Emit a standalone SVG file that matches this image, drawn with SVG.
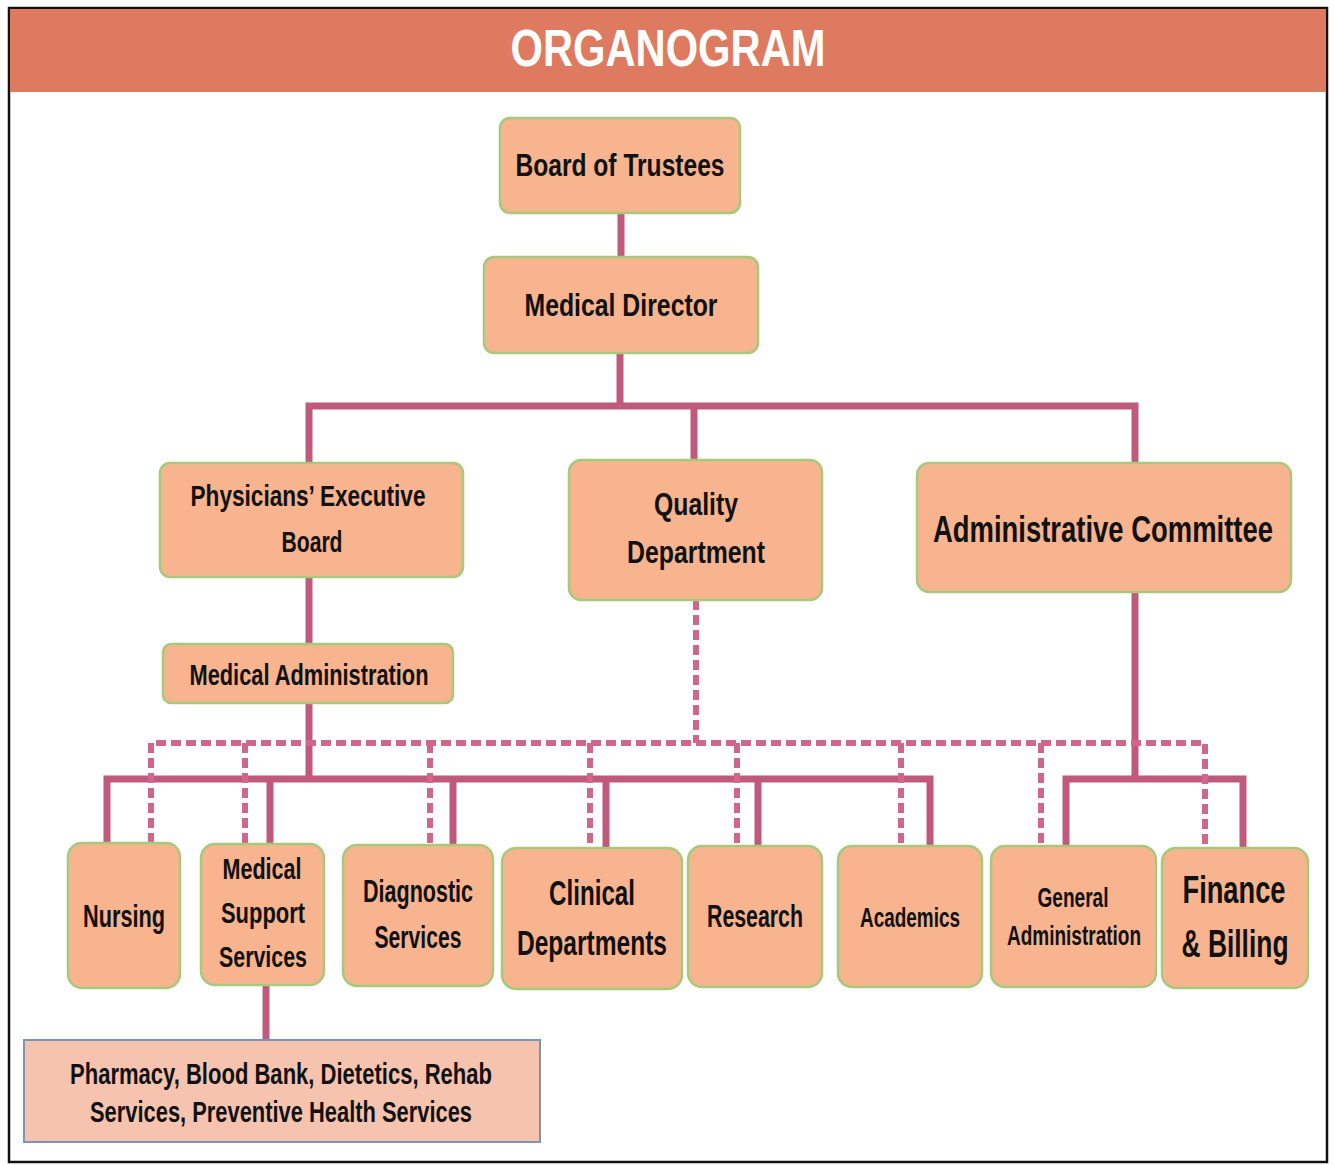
<svg xmlns="http://www.w3.org/2000/svg" width="1334" height="1165" viewBox="0 0 1334 1165">
<style>
.box{fill:#f7b48e;stroke:#a6c97c;stroke-width:2.5}
.pbox{fill:#f6c4ae;stroke:#7b93b4;stroke-width:2}
.t{font-family:"Liberation Sans",Arial,sans-serif;font-weight:bold;fill:#111;text-anchor:middle}
.solid{stroke:#c05a7d;stroke-width:7;fill:none;stroke-linecap:butt}
.dash{stroke:#d0668a;stroke-width:6;fill:none;stroke-dasharray:10 5}
</style>
<rect x="0" y="0" width="1334" height="1165" fill="#ffffff"/>
<rect x="9" y="8" width="1318" height="1154" fill="#ffffff" stroke="#111" stroke-width="2.5"/>
<rect x="10" y="9" width="1316" height="83" fill="#de7a60"/>
<text x="668" y="66" class="t" style="fill:#ffffff" font-size="52" textLength="315" lengthAdjust="spacingAndGlyphs">ORGANOGRAM</text>

<g id="connectors">
  <path class="solid" d="M621 213V257"/>
  <path class="solid" d="M620 353V406"/>
  <path class="solid" d="M309 463V406H1135V463M694 406V460"/>
  <path class="solid" d="M309 577V644"/>
  <path class="solid" d="M309 703V779"/>
  <path class="solid" d="M107 843V779H930V846M270 779V844M453 779V845M606 779V848M758 779V846"/>
  <path class="solid" d="M1135 592V779"/>
  <path class="solid" d="M1066 846V779H1243V848"/>
  <path class="solid" d="M266 985V1040"/>
  <path class="dash" d="M696 600V743"/>
  <path class="dash" d="M151 843V743H1205V848"/>
  <path class="dash" d="M245 743V844M430 743V845M590 743V848M737 743V846M901 743V846M1041 743V846"/>
</g>

<g id="board-of-trustees">
  <rect class="box" x="500" y="118" width="240" height="95" rx="10"/>
  <text class="t" x="620" y="176" font-size="32" textLength="209" lengthAdjust="spacingAndGlyphs">Board of Trustees</text>
</g>
<g id="medical-director">
  <rect class="box" x="484" y="257" width="274" height="96" rx="10"/>
  <text class="t" x="621" y="316" font-size="31" textLength="193" lengthAdjust="spacingAndGlyphs">Medical Director</text>
</g>
<g id="physicians-executive-board">
  <rect class="box" x="160" y="463" width="303" height="114" rx="10"/>
  <text class="t" x="308" y="506" font-size="30" textLength="235" lengthAdjust="spacingAndGlyphs">Physicians’ Executive</text>
  <text class="t" x="312" y="552" font-size="30" textLength="61" lengthAdjust="spacingAndGlyphs">Board</text>
</g>
<g id="quality-department">
  <rect class="box" x="569" y="460" width="253" height="140" rx="12"/>
  <text class="t" x="696" y="515" font-size="31" textLength="84" lengthAdjust="spacingAndGlyphs">Quality</text>
  <text class="t" x="696" y="563" font-size="31" textLength="138" lengthAdjust="spacingAndGlyphs">Department</text>
</g>
<g id="administrative-committee">
  <rect class="box" x="917" y="463" width="374" height="129" rx="12"/>
  <text class="t" x="1103" y="542" font-size="37" textLength="340" lengthAdjust="spacingAndGlyphs">Administrative Committee</text>
</g>
<g id="medical-administration">
  <rect class="box" x="163" y="644" width="290" height="59" rx="8"/>
  <text class="t" x="309" y="685" font-size="30" textLength="239" lengthAdjust="spacingAndGlyphs">Medical Administration</text>
</g>

<g id="nursing">
  <rect class="box" x="68" y="843" width="112" height="145" rx="14"/>
  <text class="t" x="124" y="927" font-size="31" textLength="82" lengthAdjust="spacingAndGlyphs">Nursing</text>
</g>
<g id="medical-support-services">
  <rect class="box" x="201" y="844" width="123" height="141" rx="14"/>
  <text class="t" x="262" y="879" font-size="30" textLength="79" lengthAdjust="spacingAndGlyphs">Medical</text>
  <text class="t" x="263" y="923" font-size="30" textLength="84" lengthAdjust="spacingAndGlyphs">Support</text>
  <text class="t" x="263" y="967" font-size="30" textLength="88" lengthAdjust="spacingAndGlyphs">Services</text>
</g>
<g id="diagnostic-services">
  <rect class="box" x="343" y="845" width="150" height="141" rx="14"/>
  <text class="t" x="418" y="902" font-size="31" textLength="110" lengthAdjust="spacingAndGlyphs">Diagnostic</text>
  <text class="t" x="418" y="948" font-size="31" textLength="87" lengthAdjust="spacingAndGlyphs">Services</text>
</g>
<g id="clinical-departments">
  <rect class="box" x="502" y="848" width="180" height="141" rx="14"/>
  <text class="t" x="592" y="905" font-size="35" textLength="86" lengthAdjust="spacingAndGlyphs">Clinical</text>
  <text class="t" x="592" y="955" font-size="35" textLength="150" lengthAdjust="spacingAndGlyphs">Departments</text>
</g>
<g id="research">
  <rect class="box" x="688" y="846" width="134" height="141" rx="14"/>
  <text class="t" x="755" y="927" font-size="32" textLength="96" lengthAdjust="spacingAndGlyphs">Research</text>
</g>
<g id="academics">
  <rect class="box" x="838" y="846" width="144" height="141" rx="14"/>
  <text class="t" x="910" y="927" font-size="28" textLength="100" lengthAdjust="spacingAndGlyphs">Academics</text>
</g>
<g id="general-administration">
  <rect class="box" x="991" y="846" width="165" height="141" rx="14"/>
  <text class="t" x="1073" y="907" font-size="27" textLength="71" lengthAdjust="spacingAndGlyphs">General</text>
  <text class="t" x="1074" y="945" font-size="27" textLength="134" lengthAdjust="spacingAndGlyphs">Administration</text>
</g>
<g id="finance-billing">
  <rect class="box" x="1162" y="848" width="146" height="140" rx="14"/>
  <text class="t" x="1234" y="903" font-size="39" textLength="103" lengthAdjust="spacingAndGlyphs">Finance</text>
  <text class="t" x="1235" y="957" font-size="39" textLength="107" lengthAdjust="spacingAndGlyphs">&amp; Billing</text>
</g>
<g id="support-services-list">
  <rect class="pbox" x="24" y="1040" width="516" height="102"/>
  <text class="t" x="281" y="1084" font-size="29" textLength="422" lengthAdjust="spacingAndGlyphs">Pharmacy, Blood Bank, Dietetics, Rehab</text>
  <text class="t" x="281" y="1122" font-size="29" textLength="382" lengthAdjust="spacingAndGlyphs">Services, Preventive Health Services</text>
</g>
</svg>
